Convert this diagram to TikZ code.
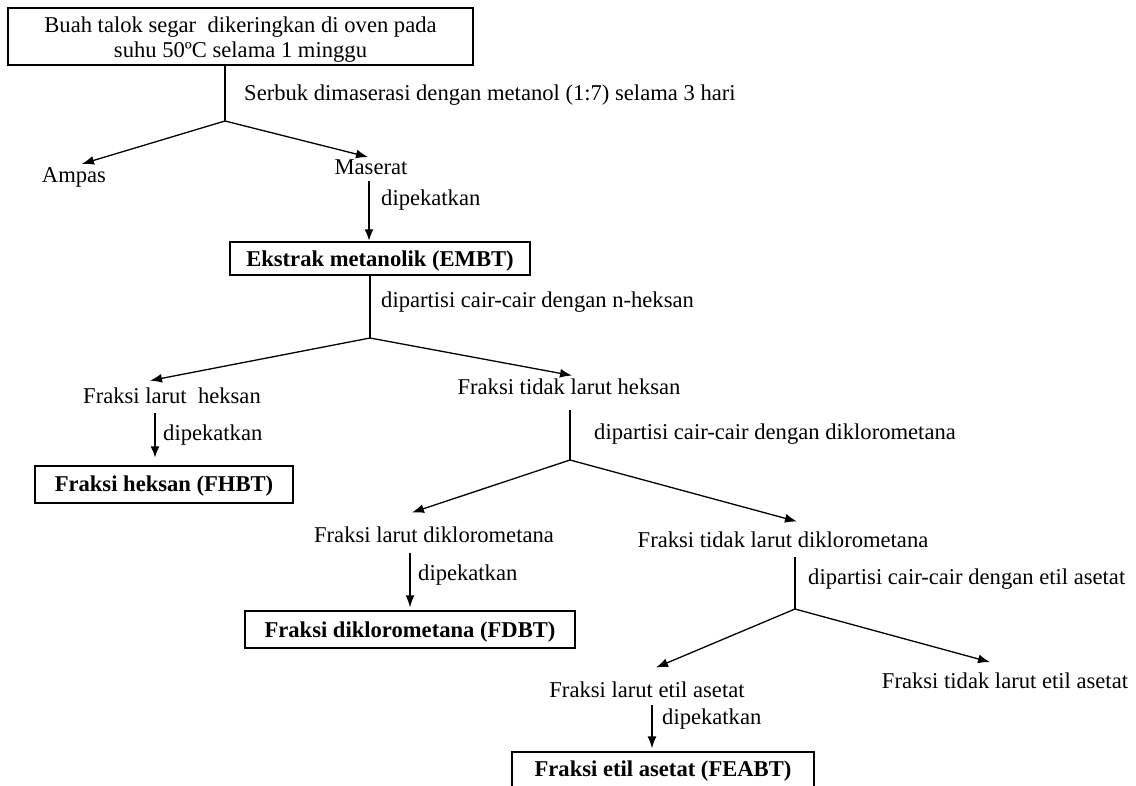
\documentclass[tikz,border=0pt]{standalone}
\usepackage{fontspec}
\setmainfont{Liberation Serif}
\usetikzlibrary{arrows.meta}
\tikzset{
  fnt/.style={font=\fontsize{22.6}{25}\selectfont},
  txt/.style={fnt, anchor=base, inner sep=0pt},
  lbl/.style={fnt, anchor=base west, inner sep=0pt},
  boxbase/.style={draw, line width=1.3pt, inner sep=0pt},
  box/.style={boxbase, font=\fontsize{22.6}{25}\selectfont\bfseries, text height=19pt, text depth=4pt},
  lnthin/.style={line width=1.3pt},
  lnthick/.style={line width=2.5pt},
  arr/.style={-{Latex[length=12pt,width=9pt]}},
}
\begin{document}
\begin{tikzpicture}[x=1pt,y=-1pt]
\useasboundingbox (0,0) rectangle (1136,786);
\fill[white] (0,0) rectangle (1136,786);

% top box
\node[boxbase, fnt, minimum width=465pt, minimum height=57pt] (top) at (240.5,36.5)
  {\raisebox{-4pt}[\height][\depth]{\begin{tabular}{@{}c@{}}Buah talok segar\ \ dikeringkan di oven pada\\ suhu 50ºC selama 1 minggu\end{tabular}}};

\coordinate (b1) at (225,121);
\draw[lnthin] (top.south -| b1) -- (b1);
\node[lbl] (l1) at (244,101) {Serbuk dimaserasi dengan metanol (1:7) selama 3 hari};

\node[txt] (ampas) at (74,183) {Ampas};
\node[txt] (maserat) at (371,175) {Maserat};
\draw[lnthin,arr] (b1) -- ([shift={(8,-4)}]ampas.north);
\draw[lnthin,arr] (b1) -- ([shift={(-3,-3)}]maserat.north);

\node[box, minimum width=300pt, minimum height=33pt, text height=20pt, text depth=3pt] (embt) at (380,258.5) {Ekstrak metanolik (EMBT)};
\draw[lnthick,arr] ([shift={(-2,6)}]maserat.south) -- ([xshift=-2pt]maserat.south |- embt.north);
\node[lbl] (l2) at (381,206) {dipekatkan};

\coordinate (b2) at (370,338);
\draw[lnthick] (b2 |- embt.south) -- (b2);
\node[lbl] (l3) at (381,308) {dipartisi cair-cair dengan n-heksan};

\node[txt] (lh) at (172,403) {Fraksi larut\ \ heksan};
\node[txt] (tlh) at (569,395) {Fraksi tidak larut heksan};
\draw[lnthin,arr] (b2) -- ([shift={(-22,-6.5)}]lh.north);
\draw[lnthin,arr] (b2) -- ([shift={(3,-3.6)}]tlh.north);

\node[box, minimum width=258pt, minimum height=37pt, text height=19pt, text depth=6pt] (fhbt) at (164,484.5) {Fraksi heksan (FHBT)};
\draw[lnthick,arr,shorten >=7pt] ([shift={(-17,10)}]lh.south) -- ([xshift=-17pt]lh.south |- fhbt.north);
\node[lbl] (l4) at (163,441) {dipekatkan};

\coordinate (b3) at (570,460);
\draw[lnthick] ([shift={(1,15)}]tlh.south) -- (b3);
\node[lbl] (l5) at (594,439) {dipartisi cair-cair dengan diklorometana};

\node[txt] (ld) at (434,542) {Fraksi larut diklorometana};
\node[txt] (tld) at (783,547) {Fraksi tidak larut diklorometana};
\draw[lnthin,arr] (b3) -- ([shift={(-22,-13.6)}]ld.north);
\draw[lnthin,arr] (b3) -- ([shift={(14,-9.6)}]tld.north);

\node[box, minimum width=330pt, minimum height=37pt] (fdbt) at (410,629.5) {Fraksi diklorometana (FDBT)};
\draw[lnthin,arr,shorten >=3pt] ([shift={(-24,11)}]ld.south) -- ([xshift=-24pt]ld.south |- fdbt.north);
\node[lbl] (l6) at (418,580) {dipekatkan};

\coordinate (b4) at (795,609);
\draw[lnthick] ([shift={(12,10)}]tld.south) -- (b4);
\node[lbl] (l7) at (808,584) {dipartisi cair-cair dengan etil asetat};

\node[txt] (le) at (647,697) {Fraksi larut etil asetat};
\node[txt] (tle) at (1005,688) {Fraksi tidak larut etil asetat};
\draw[lnthin,arr] (b4) -- ([shift={(9,-13.6)}]le.north);
\draw[lnthin,arr] (b4) -- ([shift={(-15,-10)}]tle.north);

\node[box, minimum width=302pt, minimum height=37pt, text height=17pt, text depth=5pt] (feabt) at (663,770.5) {Fraksi etil asetat (FEABT)};
\draw[lnthin,arr,shorten >=3pt] ([shift={(5,8)}]le.south) -- ([xshift=5pt]le.south |- feabt.north);
\node[lbl] (l8) at (662,724) {dipekatkan};
\end{tikzpicture}
\end{document}
